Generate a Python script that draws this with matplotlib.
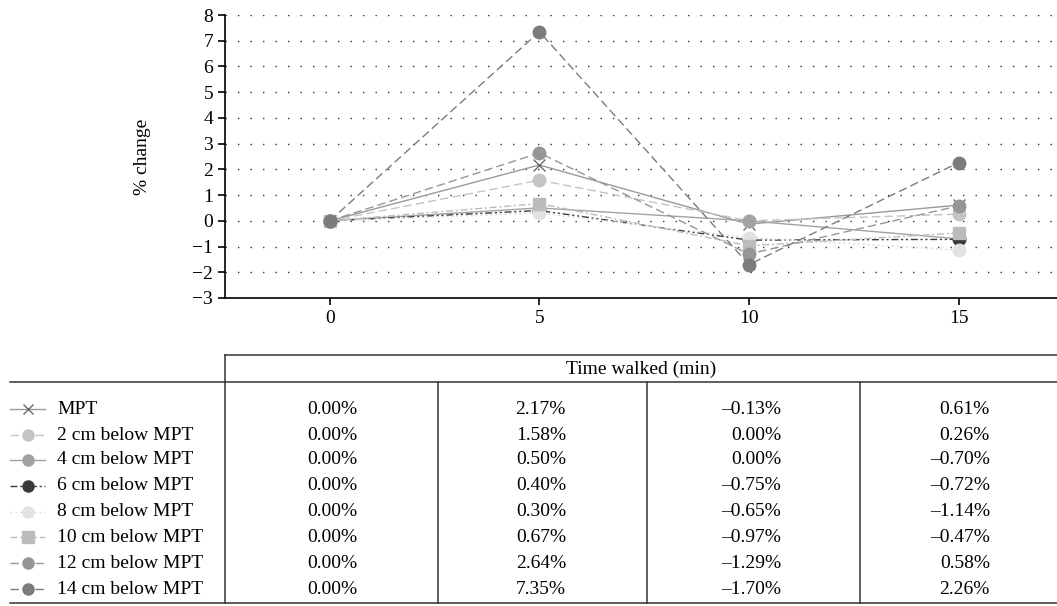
import matplotlib
matplotlib.use('Agg')
import matplotlib.pyplot as plt

plt.rcParams['font.family'] = ['Liberation Serif', 'DejaVu Serif']
plt.rcParams['font.size'] = 14

times = [0, 5, 10, 15]
series_names = ['MPT', '2 cm below MPT', '4 cm below MPT', '6 cm below MPT',
                '8 cm below MPT', '10 cm below MPT', '12 cm below MPT',
                '14 cm below MPT']
mpt = [0.00, 2.17, -0.13, 0.61]
cm2 = [0.00, 1.58, 0.00, 0.26]
cm4 = [0.00, 0.50, 0.00, -0.70]
cm6 = [0.00, 0.40, -0.75, -0.72]
cm8 = [0.00, 0.30, -0.65, -1.14]
cm10 = [0.00, 0.67, -0.97, -0.47]
cm12 = [0.00, 2.64, -1.29, 0.58]
cm14 = [0.00, 7.35, -1.70, 2.26]
all_series = [mpt, cm2, cm4, cm6, cm8, cm10, cm12, cm14]

styles = [
    dict(color='#9a9a9a', ls='-', marker='x', mec='#6a6a6a', mfc='#6a6a6a', ms=8),
    dict(color='#c4c4c4', ls=(0, (6, 3)), marker='o', mec='#c4c4c4', mfc='#c4c4c4', ms=9),
    dict(color='#a2a2a2', ls='-', marker='o', mec='#a2a2a2', mfc='#a2a2a2', ms=9),
    dict(color='#3a3a3a', ls=(0, (5, 2, 1.5, 2, 1.5, 2)), marker='o', mec='#3a3a3a', mfc='#3a3a3a', ms=9),
    dict(color='#dcdcdc', ls=(0, (1.5, 2)), marker='o', mec='#e2e2e2', mfc='#e2e2e2', ms=9),
    dict(color='#bcbcbc', ls=(0, (5, 2, 1.5, 2)), marker='s', mec='#bcbcbc', mfc='#bcbcbc', ms=9),
    dict(color='#969696', ls=(0, (6, 3)), marker='o', mec='#969696', mfc='#969696', ms=9),
    dict(color='#7c7c7c', ls=(0, (6, 3)), marker='o', mec='#7c7c7c', mfc='#7c7c7c', ms=9),
]

W, H = 1057, 606
fig = plt.figure(figsize=(W / 100, H / 100), dpi=100)

# plot area
ax = fig.add_axes([225 / W, (H - 298) / H, 832 / W, 283 / H])
for vals, st in zip(all_series, styles):
    ax.plot(times, vals, lw=1, **st)
ax.set_xlim(-2.5, 17.35)
ax.set_ylim(-3, 8)
ax.set_xticks(times)
ax.set_yticks(range(-3, 9))
ax.spines['top'].set_visible(False)
ax.spines['right'].set_visible(False)
ax.spines['left'].set_linewidth(1.2)
ax.spines['bottom'].set_linewidth(1.2)
ax.tick_params(direction='out', length=5, width=1.2, labelsize=14)
ax.yaxis.grid(True, linestyle=(0, (1, 8)), color='#333333', linewidth=1)
ax.set_axisbelow(True)
ax.set_ylabel('% change', fontsize=14, labelpad=30)

# table drawn in pixel coordinates
tb = fig.add_axes([0, 0, 1, 1])
tb.set_xlim(0, W)
tb.set_ylim(H, 0)
tb.axis('off')

lc = '#333333'
tb.plot([225, W], [355, 355], color=lc, lw=1.1)
tb.plot([10, W], [382, 382], color=lc, lw=1.1)
tb.plot([10, W], [603, 603], color=lc, lw=1.1)
tb.plot([225, 225], [355, 603], color=lc, lw=1.1)
for xv in [438, 647, 860]:
    tb.plot([xv, xv], [382, 603], color=lc, lw=1.1)

tb.text((225 + W) / 2, 369, 'Time walked (min)', ha='center', va='center', fontsize=14)

row_y = [409, 435, 460, 486, 512, 537, 563, 589]
col_right = [357, 566, 781, 990]


def fmt(v):
    s = '%.2f%%' % abs(v)
    return ('\u2013' + s) if v < 0 else s


for name, vals, st, y in zip(series_names, all_series, styles, row_y):
    tb.plot([10, 45], [y, y], lw=1, color=st['color'], ls=st['ls'])
    mst = {k: v for k, v in st.items() if k not in ('color', 'ls')}
    mst['ms'] = mst['ms'] - 1
    tb.plot([27.5], [y], ls='none', **mst)
    tb.text(57, y, name, ha='left', va='center', fontsize=14)
    for xr, v in zip(col_right, vals):
        tb.text(xr, y, fmt(v), ha='right', va='center', fontsize=14)

fig.savefig('out.png', dpi=100)
